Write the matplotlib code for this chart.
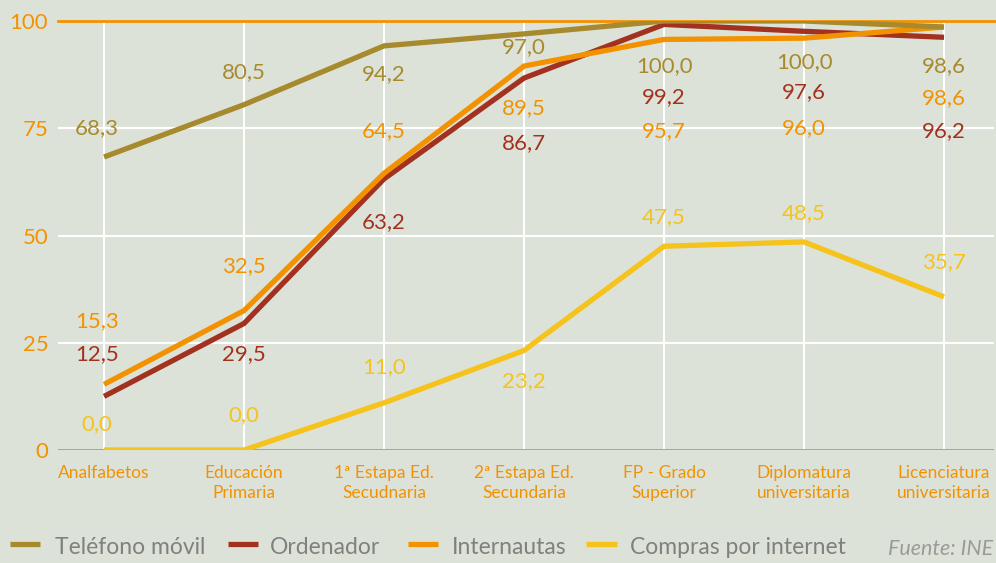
import matplotlib.pyplot as plt
from matplotlib.lines import Line2D

plt.rcParams['font.family'] = ['Lato', 'DejaVu Sans']

categories = ['Analfabetos', 'Educación\nPrimaria', '1ª Estapa Ed.\nSecudnaria',
              '2ª Estapa Ed.\nSecundaria', 'FP - Grado\nSuperior',
              'Diplomatura\nuniversitaria', 'Licenciatura\nuniversitaria']
series_names = ['Teléfono móvil', 'Ordenador', 'Internautas', 'Compras por internet']
telefono = [68.3, 80.5, 94.2, 97.0, 100.0, 100.0, 98.6]
ordenador = [12.5, 29.5, 63.2, 86.7, 99.2, 97.6, 96.2]
internautas = [15.3, 32.5, 64.5, 89.5, 95.7, 96.0, 98.6]
compras = [0.0, 0.0, 11.0, 23.2, 47.5, 48.5, 35.7]
yticks = [0, 25, 50, 75, 100]

# where each value label sits (data y)
label_y = [
    [75.1, 88.1, 87.6, 93.9, 89.5, 90.4, 89.5],
    [22.4, 22.4, 53.1, 71.6, 82.3, 83.4, 74.4],
    [30.1, 42.9, 74.4, 79.7, 74.4, 75.1, 82.1],
    [6.1, 8.2, 19.3, 16.1, 54.3, 55.2, 43.8],
]

colors = ['#A78A2E', '#A3311F', '#F39200', '#F5C31C']
orange = '#F39200'
bg = '#DDE2D8'
zorders = [6, 4, 5, 3]

fig = plt.figure(figsize=(9.96, 5.63), dpi=100, facecolor=bg)
ax = fig.add_axes([58 / 996, 113 / 563, 936 / 996, 429 / 563])
ax.set_facecolor(bg)

x = list(range(len(categories)))
ax.set_xlim(-0.329, 6.357)
ax.set_ylim(0, 100)

# grid
for yv in [25, 50, 75]:
    ax.axhline(yv, color='white', lw=1.5, zorder=1)
for xv in x:
    ax.plot([xv, xv], [0, 100], color='white', lw=1.5, zorder=1)
ax.axhline(0, color=orange, lw=2, zorder=2)
ax.plot([-0.329, 6.45], [100, 100], color=orange, lw=2, zorder=2, clip_on=False)

data = [telefono, ordenador, internautas, compras]
for vals, c, z, ly in zip(data, colors, zorders, label_y):
    ax.plot(x, vals, color=c, lw=3.8, solid_capstyle='butt', solid_joinstyle='miter', zorder=z)
    for i, (v, yl) in enumerate(zip(vals, ly)):
        xl = i - 0.05 if i == 0 else i
        ax.text(xl, yl, f'{v:.1f}'.replace('.', ','), color=c, fontsize=16,
                ha='center', va='center', zorder=7)

for s in ax.spines.values():
    s.set_visible(False)
ax.set_yticks(yticks)
ax.set_yticklabels([str(t) for t in yticks], color=orange, fontsize=16)
ax.set_xticks(x)
ax.set_xticklabels(categories, color=orange, fontsize=12.5, linespacing=1.3)
ax.tick_params(axis='both', length=0)
ax.tick_params(axis='y', pad=7)
ax.tick_params(axis='x', pad=11)

# legend row
leg_items = [(10, 40, 55), (228, 258, 270), (408, 438, 452), (586, 617, 630)]
for (h0, h1, tx), name, c in zip(leg_items, series_names, colors):
    yy = 1 - 544 / 563
    fig.add_artist(Line2D([h0 / 996, h1 / 996], [yy, yy], color=c, lw=3.8,
                          solid_capstyle='butt'))
    fig.text(tx / 996, 1 - 548 / 563, name, color='#808080', fontsize=16.5,
             ha='left', va='center')
fig.text(993 / 996, 1 - 549 / 563, 'Fuente: INE', color='#9A9A9A', fontsize=15.5,
         style='italic', ha='right', va='center')

fig.savefig('out.png', dpi=100, facecolor=bg)
